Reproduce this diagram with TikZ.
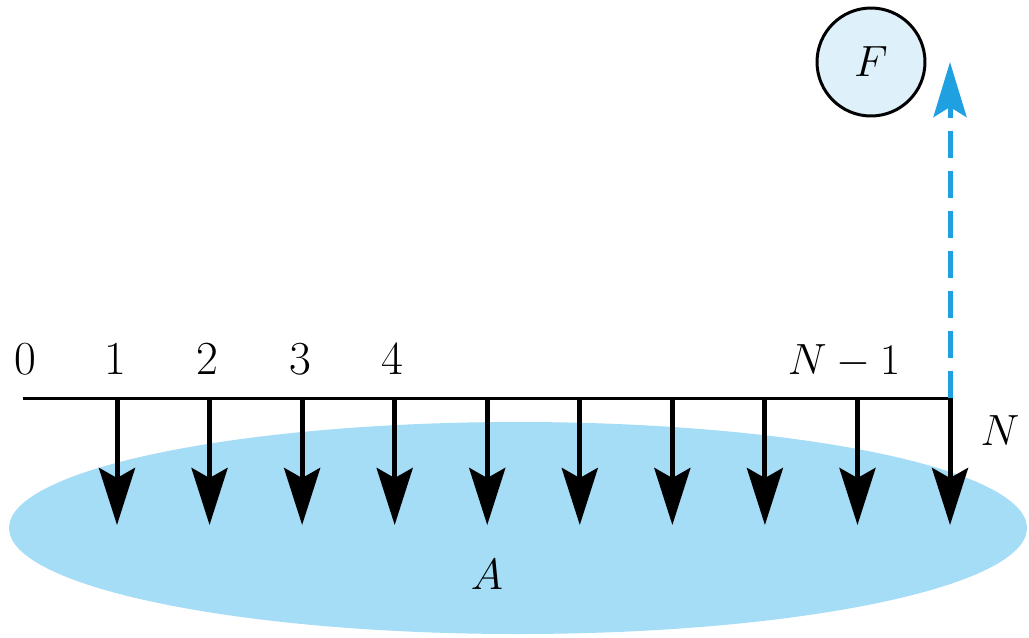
\documentclass[tikz,border=0pt]{standalone}
\usepackage{amsmath}
\usepackage{tikz}
\usetikzlibrary{arrows.meta}
\definecolor{poolblue}{RGB}{165,220,246}
\definecolor{circblue}{RGB}{222,240,250}
\definecolor{dashblue}{RGB}{30,160,225}

\begin{document}
\begin{tikzpicture}[x=0.02cm,y=-0.02cm,
  pay/.style={line width=0.1cm,-{Stealth[length=1.14cm,width=0.72cm,inset=0.2cm]}},
  tick/.style={font=\fontsize{27}{31}\selectfont,inner sep=0pt,anchor=base},
  big/.style={font=\fontsize{31}{35}\selectfont,inner sep=0pt}]
\useasboundingbox (0,0) rectangle (1029,637);
\fill[poolblue] (518,528) ellipse [x radius=509, y radius=106];
\coordinate (s) at (23,398);
\coordinate (e) at (950,398);
\coordinate (top) at (950,62);
\draw[line width=0.06cm] (s) -- (e);
\foreach \i in {1,...,10} {
  \coordinate (t\i) at ({117+92.56*(\i-1)},398);
  \coordinate (b\i) at ({117+92.56*(\i-1)},525);
  \draw[pay] (t\i) -- (b\i);
}
\node[tick] (l0) at (25,374) {0};
\foreach \i in {1,...,4}
  \node[tick] (l\i) at ({115+92.56*(\i-1)},374) {\i};
\node[tick] (lm) at (844,374) {$N-1$};
\node[big] (lN) at (1000,431) {$N$};
\node[big] (lA) at (487,575) {$A$};
\node[big,circle,draw,line width=0.06cm,fill=circblue,minimum size=2.16cm] (F) at (871,62) {$F$};
\draw[line width=0.1cm,dashblue,dash pattern=on 0.54cm off 0.26cm,
  -{Stealth[length=1.1cm,width=0.66cm,inset=0.2cm]}] (e) -- (top);
\end{tikzpicture}
\end{document}
